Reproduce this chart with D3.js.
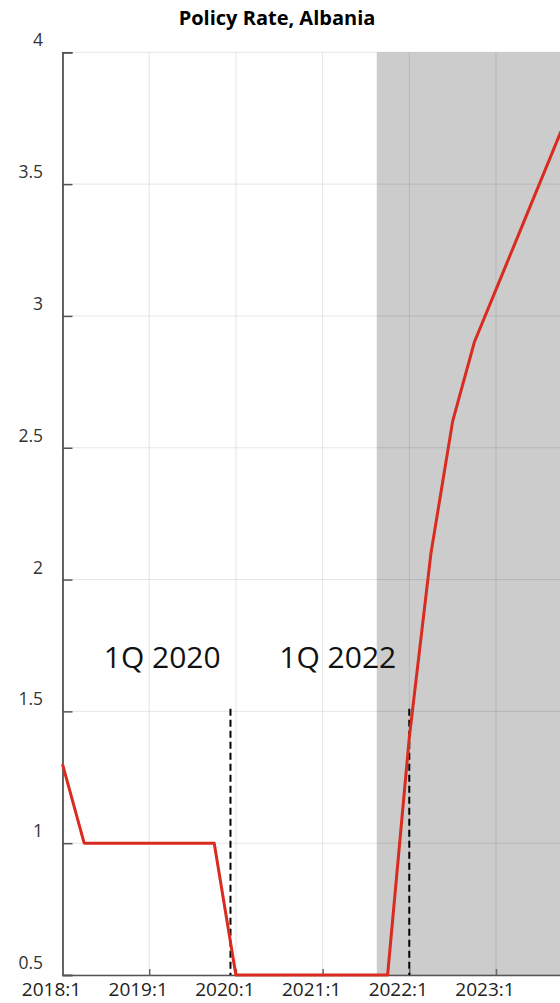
<!DOCTYPE html>
<meta charset="utf-8">
<style>
body { margin: 0; background: #fff; }
text { font-family: "Open Sans", "Noto Sans", sans-serif; }
.grid line { stroke: rgba(0,0,0,0.1); stroke-width: 1px; }
.rate { fill: none; stroke: #d92b1f; stroke-width: 3px; stroke-linejoin: round; }
.event { stroke: #000; stroke-width: 2px; stroke-dasharray: 7,4; }
</style>
<svg width="560" height="1003"></svg>
<script src="https://cdn.jsdelivr.net/npm/d3@7"></script>
<script>

// quarterly policy rate, 2018:1 .. 2023:4
var quarters = ["2018:1","2018:2","2018:3","2018:4",
                "2019:1","2019:2","2019:3","2019:4",
                "2020:1","2020:2","2020:3","2020:4",
                "2021:1","2021:2","2021:3","2021:4",
                "2022:1","2022:2","2022:3","2022:4",
                "2023:1","2023:2","2023:3","2023:4"];
var rate = [1.3, 1.0, 1.0, 1.0,
            1.0, 1.0, 1.0, 1.0,
            0.5, 0.5, 0.5, 0.5,
            0.5, 0.5, 0.5, 0.5,
            1.4, 2.1, 2.6, 2.9,
            3.1, 3.3, 3.5, 3.7];

var yTicks = [0.5, 1, 1.5, 2, 2.5, 3, 3.5, 4];
var xTickLabels = ["2018:1", "2019:1", "2020:1", "2021:1", "2022:1", "2023:1"];

// shaded period starts between 2021:3 and 2021:4
var shadeStart = 14.5;
// event markers (quarter index) and their labels
var eventPos = [7.75, 16];
var eventTop = 1.51;
var noteText = ["1Q 2020", "1Q 2022"];
var notePos = [4.6, 12.7];
var noteValue = 1.665;

var svg = d3.select("svg"),
    margin = {top: 52.3, right: -1, bottom: 28, left: 62.5},
    width = +svg.attr("width") - margin.left - margin.right,
    height = +svg.attr("height") - margin.top - margin.bottom,
    g = svg.append("g").attr("transform", "translate(" + margin.left + "," + margin.top + ")");

var x = d3.scaleLinear().domain([0, quarters.length - 1]).range([0, width]);
var y = d3.scaleLinear().domain([0.5, 4]).range([height, 0]);

// title
svg.append("text")
    .attr("x", 277)
    .attr("y", 25)
    .attr("text-anchor", "middle")
    .style("font-weight", "bold")
    .style("font-size", "20px")
    .attr("fill", "#000")
    .text("Policy Rate, Albania");

// shaded area
g.append("rect")
    .attr("x", x(shadeStart))
    .attr("y", 0)
    .attr("width", x(quarters.length - 1) - x(shadeStart) + 2)
    .attr("height", height)
    .attr("fill", "#cccccc");

// grid
var grid = g.append("g").attr("class", "grid");
grid.selectAll(".hg")
    .data(yTicks)
  .enter().append("line")
    .attr("x1", 0).attr("x2", width + 2)
    .attr("y1", function(d) { return y(d); })
    .attr("y2", function(d) { return y(d); });
grid.selectAll(".vg")
    .data(xTickLabels)
  .enter().append("line")
    .attr("x1", function(d) { return x(quarters.indexOf(d)); })
    .attr("x2", function(d) { return x(quarters.indexOf(d)); })
    .attr("y1", 0).attr("y2", height);

// y axis
var yAxis = g.append("g")
    .call(d3.axisRight(y).tickValues(yTicks).tickSize(10).tickFormat(""));
yAxis.select(".domain").attr("stroke", "#333").attr("stroke-width", 1.5);
yAxis.selectAll(".tick line").attr("stroke", "#555").attr("stroke-width", 1.5);

g.selectAll(".ylab")
    .data(yTicks)
  .enter().append("text")
    .attr("class", "ylab")
    .attr("x", 43 - margin.left)
    .attr("y", function(d) { return y(d) - 6; })
    .attr("text-anchor", "end")
    .attr("fill", "#333")
    .style("font-size", "17.5px")
    .text(function(d) { return d; });

// x axis
var xAxis = g.append("g")
    .attr("transform", "translate(0," + height + ")")
    .call(d3.axisTop(x)
      .tickValues(xTickLabels.map(function(d) { return quarters.indexOf(d); }))
      .tickSize(6).tickSizeOuter(0).tickFormat(""));
xAxis.select(".domain").attr("stroke", "#555").attr("stroke-width", 1.5);
xAxis.selectAll(".tick line").attr("stroke", "#666").attr("stroke-width", 1.5);

g.selectAll(".xlab")
    .data(xTickLabels)
  .enter().append("text")
    .attr("class", "xlab")
    .attr("x", function(d) { return x(quarters.indexOf(d)) - 11; })
    .attr("y", height + 21.5)
    .attr("text-anchor", "middle")
    .attr("fill", "#222")
    .style("font-size", "19px")
    .text(function(d) { return d; });

// dashed event lines
g.selectAll(".event")
    .data(eventPos)
  .enter().append("line")
    .attr("class", "event")
    .attr("x1", function(d) { return x(d); })
    .attr("x2", function(d) { return x(d); })
    .attr("y1", y(eventTop))
    .attr("y2", height);

// policy rate line
var line = d3.line()
    .x(function(d, i) { return x(i); })
    .y(function(d) { return y(d); });

g.append("path")
    .datum(rate)
    .attr("class", "rate")
    .attr("d", line);

// annotations
g.selectAll(".note")
    .data(noteText)
  .enter().append("text")
    .attr("class", "note")
    .attr("x", function(d, i) { return x(notePos[i]); })
    .attr("y", y(noteValue))
    .attr("text-anchor", "middle")
    .attr("fill", "#111")
    .style("font-size", "30px")
    .text(function(d) { return d; });

</script>
